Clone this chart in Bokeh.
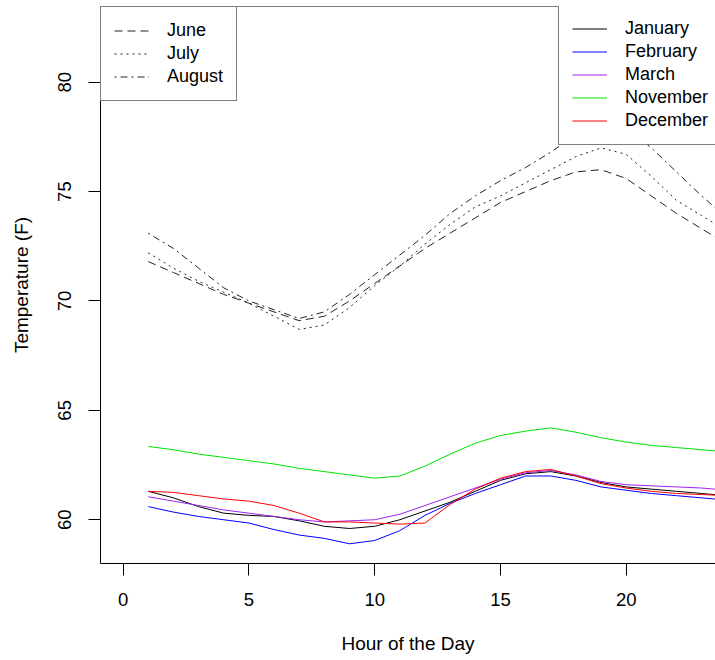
from bokeh.plotting import figure
from bokeh.models import FixedTicker, Legend, LegendItem, Span, Range1d
from bokeh.embed import file_html
from bokeh.resources import INLINE

hours = list(range(1, 25))

june = [71.8, 71.3, 70.8, 70.3, 69.9, 69.5, 69.1, 69.3, 70.0, 70.8, 71.6, 72.4,
        73.1, 73.8, 74.5, 75.0, 75.5, 75.9, 76.0, 75.6, 74.8, 74.0, 73.3, 72.6]
july = [72.2, 71.5, 70.9, 70.4, 69.9, 69.3, 68.7, 68.9, 69.7, 70.7, 71.6, 72.6,
        73.5, 74.3, 74.8, 75.4, 76.0, 76.6, 77.0, 76.7, 75.7, 74.6, 73.9, 73.2]
august = [73.1, 72.4, 71.5, 70.6, 70.0, 69.6, 69.2, 69.5, 70.3, 71.2, 72.1, 73.0,
          74.0, 74.8, 75.5, 76.1, 76.8, 77.6, 78.0, 77.9, 77.0, 75.9, 74.8, 73.8]

january = [61.3, 61.0, 60.6, 60.3, 60.2, 60.15, 59.95, 59.7, 59.6, 59.7, 60.0, 60.4,
           60.8, 61.3, 61.8, 62.1, 62.2, 62.0, 61.7, 61.5, 61.4, 61.3, 61.2, 61.1]
february = [60.6, 60.35, 60.15, 60.0, 59.85, 59.55, 59.3, 59.15, 58.9, 59.05, 59.5, 60.2,
            60.75, 61.2, 61.6, 62.0, 62.0, 61.8, 61.5, 61.35, 61.2, 61.1, 61.0, 60.9]
march = [61.05, 60.85, 60.65, 60.45, 60.3, 60.15, 60.0, 59.9, 59.95, 60.0, 60.25, 60.65,
         61.05, 61.45, 61.85, 62.15, 62.25, 62.05, 61.75, 61.6, 61.55, 61.5, 61.45, 61.35]
november = [63.35, 63.2, 63.0, 62.85, 62.7, 62.55, 62.35, 62.2, 62.05, 61.9, 62.0, 62.45,
            63.0, 63.5, 63.85, 64.05, 64.2, 64.0, 63.75, 63.55, 63.4, 63.3, 63.2, 63.1]
december = [61.3, 61.25, 61.1, 60.95, 60.85, 60.65, 60.3, 59.9, 59.9, 59.85, 59.8, 59.85,
            60.7, 61.4, 61.9, 62.2, 62.3, 62.0, 61.65, 61.45, 61.3, 61.2, 61.15, 61.1]

x_ticks = [0, 5, 10, 15, 20]
y_ticks = [60, 65, 70, 75, 80]

FONT = "Liberation Sans"
FS = "18.5px"
FS_LEG = "18px"
FS_TITLE = "19px"
Y_TOP = 83.46

p = figure(width=715, height=660, output_backend="svg", toolbar_location=None,
           x_range=Range1d(-0.90, 23.55), y_range=Range1d(58.0, Y_TOP),
           min_border_left=100, min_border_right=0, min_border_top=6,
           min_border_bottom=97, background_fill_color="white",
           border_fill_color="white")
p.grid.visible = False
p.outline_line_color = None

summer = [("June", june, "8 5"), ("July", july, "2 4"), ("August", august, "2 4 7 4")]
winter = [("January", january, "black"), ("February", february, "#0000FF"),
          ("March", march, "#A020F0"), ("November", november, "#00E000"),
          ("December", december, "#FF0000")]

left_items = []
for name, vals, dash in summer:
    r = p.line(hours, vals, line_color="#222222", line_width=1, line_dash=dash)
    left_items.append(LegendItem(label=name, renderers=[r]))

right_items = []
for name, vals, col in winter:
    r = p.line(hours, vals, line_color=col, line_width=1)
    right_items.append(LegendItem(label=name, renderers=[r]))

def style_legend(lg):
    lg.label_text_font = FONT
    lg.label_text_font_size = FS_LEG
    lg.label_text_color = "black"
    lg.border_line_color = "black"
    lg.border_line_width = 1
    lg.background_fill_color = "white"
    lg.background_fill_alpha = 1.0
    lg.padding = 13
    lg.margin = 0
    lg.spacing = 2
    lg.label_height = 21
    lg.glyph_height = 21
    lg.glyph_width = 35
    lg.label_standoff = 18

leg_left = Legend(items=left_items, location="top_left")
style_legend(leg_left)
leg_right = Legend(items=right_items, location=(458, 418))
style_legend(leg_right)
p.add_layout(leg_left, "center")
p.add_layout(leg_right, "center")

top_line = Span(location=Y_TOP, dimension="width", line_color="black", line_width=1)
p.add_layout(top_line)

p.xaxis.ticker = FixedTicker(ticks=x_ticks)
p.yaxis.ticker = FixedTicker(ticks=y_ticks)
for ax in (p.xaxis[0], p.yaxis[0]):
    ax.axis_line_color = "black"
    ax.axis_line_width = 1
    ax.major_tick_line_color = "black"
    ax.major_tick_out = 12
    ax.major_tick_in = 0
    ax.minor_tick_line_color = None
    ax.major_label_text_font = FONT
    ax.major_label_text_font_size = FS
    ax.major_label_text_color = "black"
    ax.axis_label_text_font = FONT
    ax.axis_label_text_font_size = FS_TITLE
    ax.axis_label_text_font_style = "normal"
    ax.axis_label_text_color = "black"

p.xaxis.axis_label = "Hour of the Day"
p.yaxis.axis_label = "Temperature (F)"
p.yaxis.major_label_orientation = "vertical"
p.xaxis.major_label_standoff = 17
p.yaxis.major_label_standoff = 17
p.xaxis.axis_label_standoff = 24
p.yaxis.axis_label_standoff = 24

open("out.html", "w").write(file_html(p, INLINE))
